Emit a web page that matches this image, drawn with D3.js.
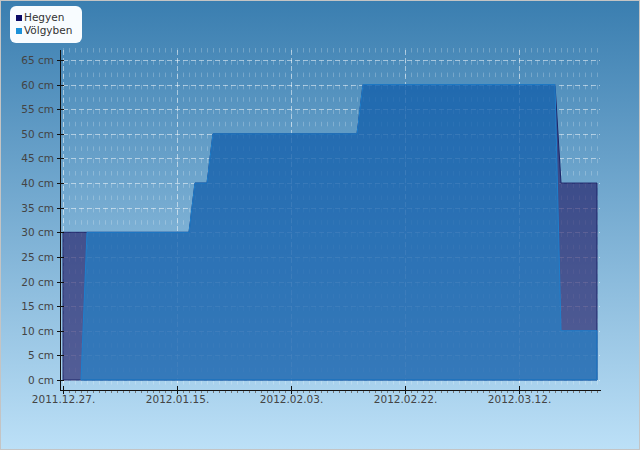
<!DOCTYPE html>
<html>
<head>
<meta charset="utf-8">
<script src="https://cdn.jsdelivr.net/npm/d3@7"></script>
<style>
  body { margin: 0; }
  svg { display: block; font-family: "DejaVu Sans", sans-serif; }
</style>
</head>
<body>
<div id="chart"></div>
<script>
// series (change points only, values in cm)
const seriesNames = ['Hegyen', 'Völgyben'];
const hegyenDates = ['2011.12.27', '2012.01.17', '2012.01.18', '2012.01.20', '2012.01.21',
  '2012.02.14', '2012.02.15', '2012.03.18', '2012.03.19', '2012.03.25'];
const hegyenValues = [30, 30, 40, 40, 50, 50, 60, 60, 40, 40];
const volgyDates = ['2011.12.30', '2011.12.31', '2012.01.17', '2012.01.18', '2012.01.20',
  '2012.01.21', '2012.02.14', '2012.02.15', '2012.03.18', '2012.03.19', '2012.03.25'];
const volgyValues = [0, 30, 30, 40, 40, 50, 50, 60, 60, 10, 10];
const xTickDates = ['2011.12.27', '2012.01.15', '2012.02.03', '2012.02.22', '2012.03.12'];
const yTicks = [0, 5, 10, 15, 20, 25, 30, 35, 40, 45, 50, 55, 60, 65];

const width = 640, height = 450;
const parse = d3.timeParse('%Y.%m.%d');
const fmt = d3.timeFormat('%Y.%m.%d.');

const hegyen = hegyenDates.map((d, i) => ({ date: parse(d), v: hegyenValues[i] }));
const volgy = volgyDates.map((d, i) => ({ date: parse(d), v: volgyValues[i] }));

const x = d3.scaleTime()
  .domain([parse('2011.12.27'), parse('2012.03.25')])
  .range([63, 597]);
const y = d3.scaleLinear().domain([0, 65]).range([380, 60]);

const svg = d3.select('#chart').append('svg')
  .attr('width', width).attr('height', height);

const defs = svg.append('defs');
const grad = defs.append('linearGradient').attr('id', 'bg')
  .attr('x1', 0).attr('y1', 0).attr('x2', 0).attr('y2', 1);
grad.append('stop').attr('offset', '0%').attr('stop-color', 'rgb(58,126,176)');
grad.append('stop').attr('offset', '100%').attr('stop-color', 'rgb(188,224,247)');

svg.append('rect')
  .attr('x', 0.5).attr('y', 0.5)
  .attr('width', width - 1).attr('height', height - 1)
  .attr('fill', 'url(#bg)')
  .attr('stroke', '#c4c4c4');

// grid
const grid = svg.append('g');
const days = d3.timeDay.range(x.domain()[0], d3.timeDay.offset(x.domain()[1], 1));
grid.selectAll('line.minor')
  .data(days)
  .join('line')
  .attr('class', 'minor')
  .attr('x1', d => Math.round(x(d)) + 0.5).attr('x2', d => Math.round(x(d)) + 0.5)
  .attr('y1', 48).attr('y2', 390)
  .attr('stroke', 'white').attr('stroke-opacity', 0.22)
  .attr('stroke-dasharray', '4.5,7.8');

grid.selectAll('line.hgrid')
  .data(yTicks)
  .join('line')
  .attr('class', 'hgrid')
  .attr('x1', 63).attr('x2', 600)
  .attr('y1', d => Math.round(y(d)) + 0.5).attr('y2', d => Math.round(y(d)) + 0.5)
  .attr('stroke', 'white').attr('stroke-opacity', 0.5)
  .attr('stroke-dasharray', '5,3');

grid.selectAll('line.vgrid')
  .data(xTickDates.map(parse))
  .join('line')
  .attr('class', 'vgrid')
  .attr('x1', d => Math.round(x(d)) + 0.5).attr('x2', d => Math.round(x(d)) + 0.5)
  .attr('y1', 50).attr('y2', 390)
  .attr('stroke', 'white').attr('stroke-opacity', 0.5)
  .attr('stroke-dasharray', '5,3');

// areas
const area = d3.area()
  .x(d => x(d.date))
  .y0(y(0))
  .y1(d => y(d.v));

svg.append('path')
  .datum(hegyen)
  .attr('d', area)
  .attr('fill', 'rgb(26,16,93)').attr('fill-opacity', 0.6)
  .attr('stroke', '#1c2468').attr('stroke-width', 1);

svg.append('path')
  .datum(volgy)
  .attr('d', area)
  .attr('fill', 'rgb(12,160,235)').attr('fill-opacity', 0.42)
  .attr('stroke', '#1f7fcc').attr('stroke-width', 1);

// axes
const axisG = svg.append('g');
axisG.append('line')
  .attr('x1', 60).attr('x2', 601).attr('y1', 390.5).attr('y2', 390.5)
  .attr('stroke', '#111');
axisG.append('line')
  .attr('x1', 60.5).attr('x2', 60.5).attr('y1', 50).attr('y2', 391)
  .attr('stroke', '#111');

axisG.selectAll('line.xminor')
  .data(days)
  .join('line')
  .attr('class', 'xminor')
  .attr('x1', d => Math.round(x(d)) + 0.5).attr('x2', d => Math.round(x(d)) + 0.5)
  .attr('y1', 391).attr('y2', 393)
  .attr('stroke', '#777');

axisG.selectAll('line.xmajor')
  .data(xTickDates.map(parse))
  .join('line')
  .attr('class', 'xmajor')
  .attr('x1', d => Math.round(x(d)) + 0.5).attr('x2', d => Math.round(x(d)) + 0.5)
  .attr('y1', 386).attr('y2', 394)
  .attr('stroke', '#111');

axisG.selectAll('text.xlab')
  .data(xTickDates.map(parse))
  .join('text')
  .attr('class', 'xlab')
  .attr('x', d => x(d) + 0.5).attr('y', 403)
  .attr('text-anchor', 'middle')
  .attr('font-size', 10.5).attr('fill', '#444')
  .text(d => fmt(d));

axisG.selectAll('line.ytick')
  .data(yTicks)
  .join('line')
  .attr('class', 'ytick')
  .attr('x1', 57).attr('x2', 64)
  .attr('y1', d => Math.round(y(d)) + 0.5).attr('y2', d => Math.round(y(d)) + 0.5)
  .attr('stroke', '#111');

axisG.selectAll('text.ylab')
  .data(yTicks)
  .join('text')
  .attr('class', 'ylab')
  .attr('x', 54).attr('y', d => y(d) + 4)
  .attr('text-anchor', 'end')
  .attr('font-size', 10.5).attr('fill', '#444')
  .text(d => d + ' cm');

// legend
const legend = svg.append('g');
legend.append('rect')
  .attr('x', 10).attr('y', 6).attr('width', 72).attr('height', 37)
  .attr('rx', 6).attr('fill', '#f8fcff');
const legendColors = ['#0b0b66', '#1b91d9'];
seriesNames.forEach((name, i) => {
  const ly = 15 + i * 13;
  legend.append('rect')
    .attr('x', 16).attr('y', ly).attr('width', 6).attr('height', 6)
    .attr('fill', legendColors[i]);
  legend.append('text')
    .attr('x', 24).attr('y', ly + 6)
    .attr('font-size', 10.5).attr('fill', '#333')
    .text(name);
});
</script>
</body>
</html>
